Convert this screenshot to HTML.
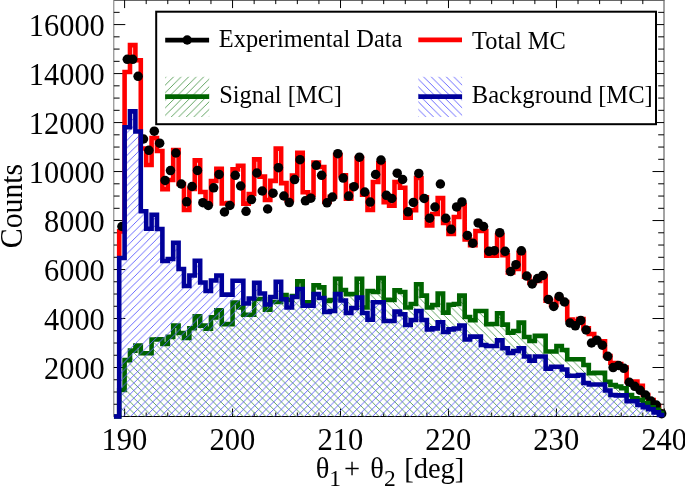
<!DOCTYPE html>
<html><head><meta charset="utf-8"><style>html,body{margin:0;padding:0;background:#fff;}svg{display:block;}</style></head>
<body><svg width="685" height="487" viewBox="0 0 685 487">
<defs>
<clipPath id="pc"><rect x="113.8" y="0" width="550.6" height="419.5"/></clipPath>
<pattern id="hg" patternUnits="userSpaceOnUse" x="0" y="7.16" width="7.56" height="7.56"><path d="M-1,-1 L8.56,8.56 M-1,6.56 L1,8.56 M6.56,-1 L8.56,1" stroke="#4f9a4f" stroke-width="0.9" fill="none"/></pattern>
<pattern id="hb" patternUnits="userSpaceOnUse" x="2.7" y="0" width="7.56" height="7.56"><path d="M-1,8.56 L8.56,-1 M-1,1 L1,-1 M6.56,8.56 L8.56,6.56" stroke="#5a5aff" stroke-width="0.9" fill="none"/></pattern>
<pattern id="lg" patternUnits="userSpaceOnUse" x="0.9" y="0" width="7.56" height="7.56"><path d="M-1,8.56 L8.56,-1 M-1,1 L1,-1 M6.56,8.56 L8.56,6.56" stroke="#4f9a4f" stroke-width="0.9" fill="none"/></pattern>
<pattern id="lb" patternUnits="userSpaceOnUse" x="0" y="1" width="7.56" height="7.56"><path d="M-1,-1 L8.56,8.56 M-1,6.56 L1,8.56 M6.56,-1 L8.56,1" stroke="#5a5aff" stroke-width="0.9" fill="none"/></pattern>
</defs>
<rect width="685" height="487" fill="#fff"/>
<path d="M113.8,0.1 H664.4 M113.8,416.5 H664.4" stroke="#000" stroke-width="1" fill="none"/>
<path d="M113.8,0.1 V416.5" stroke="#777" stroke-width="1" fill="none"/>
<path d="M664.0,0.1 V416.5" stroke="#666" stroke-width="1.2" fill="none"/>
<path d="M124.60,416.50 V408.50 M124.60,0.10 V8.10 M146.19,416.50 V412.50 M146.19,0.10 V4.10 M167.78,416.50 V412.50 M167.78,0.10 V4.10 M189.37,416.50 V412.50 M189.37,0.10 V4.10 M210.96,416.50 V412.50 M210.96,0.10 V4.10 M232.56,416.50 V408.50 M232.56,0.10 V8.10 M254.15,416.50 V412.50 M254.15,0.10 V4.10 M275.74,416.50 V412.50 M275.74,0.10 V4.10 M297.33,416.50 V412.50 M297.33,0.10 V4.10 M318.93,416.50 V412.50 M318.93,0.10 V4.10 M340.52,416.50 V408.50 M340.52,0.10 V8.10 M362.11,416.50 V412.50 M362.11,0.10 V4.10 M383.70,416.50 V412.50 M383.70,0.10 V4.10 M405.29,416.50 V412.50 M405.29,0.10 V4.10 M426.89,416.50 V412.50 M426.89,0.10 V4.10 M448.48,416.50 V408.50 M448.48,0.10 V8.10 M470.07,416.50 V412.50 M470.07,0.10 V4.10 M491.66,416.50 V412.50 M491.66,0.10 V4.10 M513.25,416.50 V412.50 M513.25,0.10 V4.10 M534.85,416.50 V412.50 M534.85,0.10 V4.10 M556.44,416.50 V408.50 M556.44,0.10 V8.10 M578.03,416.50 V412.50 M578.03,0.10 V4.10 M599.62,416.50 V412.50 M599.62,0.10 V4.10 M621.22,416.50 V412.50 M621.22,0.10 V4.10 M642.81,416.50 V412.50 M642.81,0.10 V4.10 M664.40,416.50 V408.50 M113.80,404.25 H119.60 M664.00,404.25 H658.20 M113.80,392.01 H119.60 M664.00,392.01 H658.20 M113.80,379.76 H119.60 M664.00,379.76 H658.20 M113.80,367.51 H125.30 M664.00,367.51 H652.50 M113.80,355.26 H119.60 M664.00,355.26 H658.20 M113.80,343.02 H119.60 M664.00,343.02 H658.20 M113.80,330.77 H119.60 M664.00,330.77 H658.20 M113.80,318.52 H125.30 M664.00,318.52 H652.50 M113.80,306.28 H119.60 M664.00,306.28 H658.20 M113.80,294.03 H119.60 M664.00,294.03 H658.20 M113.80,281.78 H119.60 M664.00,281.78 H658.20 M113.80,269.54 H125.30 M664.00,269.54 H652.50 M113.80,257.29 H119.60 M664.00,257.29 H658.20 M113.80,245.04 H119.60 M664.00,245.04 H658.20 M113.80,232.79 H119.60 M664.00,232.79 H658.20 M113.80,220.55 H125.30 M664.00,220.55 H652.50 M113.80,208.30 H119.60 M664.00,208.30 H658.20 M113.80,196.05 H119.60 M664.00,196.05 H658.20 M113.80,183.81 H119.60 M664.00,183.81 H658.20 M113.80,171.56 H125.30 M664.00,171.56 H652.50 M113.80,159.31 H119.60 M664.00,159.31 H658.20 M113.80,147.06 H119.60 M664.00,147.06 H658.20 M113.80,134.82 H119.60 M664.00,134.82 H658.20 M113.80,122.57 H125.30 M664.00,122.57 H652.50 M113.80,110.32 H119.60 M664.00,110.32 H658.20 M113.80,98.08 H119.60 M664.00,98.08 H658.20 M113.80,85.83 H119.60 M664.00,85.83 H658.20 M113.80,73.58 H125.30 M664.00,73.58 H652.50 M113.80,61.34 H119.60 M664.00,61.34 H658.20 M113.80,49.09 H119.60 M664.00,49.09 H658.20 M113.80,36.84 H119.60 M664.00,36.84 H658.20 M113.80,24.59 H125.30 M664.00,24.59 H652.50 M113.80,12.35 H119.60 M664.00,12.35 H658.20" stroke="#000" stroke-width="1" fill="none"/>
<g clip-path="url(#pc)">
<path d="M119.20,256.00 L119.20,231.40 L124.60,231.40 L124.60,72.00 L129.99,72.00 L129.99,45.10 L135.39,45.10 L135.39,60.30 L140.79,60.30 L140.79,148.50 L146.19,148.50 L146.19,165.00 L151.59,165.00 L151.59,138.00 L156.98,138.00 L156.98,151.00 L162.38,151.00 L162.38,189.30 L167.78,189.30 L167.78,180.00 L173.18,180.00 L173.18,150.00 L178.58,150.00 L178.58,184.00 L183.97,184.00 L183.97,210.00 L189.37,210.00 L189.37,189.00 L194.77,189.00 L194.77,160.40 L200.17,160.40 L200.17,192.00 L205.57,192.00 L205.57,203.50 L210.96,203.50 L210.96,181.00 L216.36,181.00 L216.36,168.70 L221.76,168.70 L221.76,203.50 L227.16,203.50 L227.16,203.00 L232.56,203.00 L232.56,169.40 L237.95,169.40 L237.95,165.80 L243.35,165.80 L243.35,203.60 L248.75,203.60 L248.75,194.00 L254.15,194.00 L254.15,159.40 L259.55,159.40 L259.55,176.60 L264.95,176.60 L264.95,200.00 L270.34,200.00 L270.34,180.90 L275.74,180.90 L275.74,148.60 L281.14,148.60 L281.14,183.10 L286.54,183.10 L286.54,200.00 L291.94,200.00 L291.94,175.50 L297.33,175.50 L297.33,152.90 L302.73,152.90 L302.73,192.20 L308.13,192.20 L308.13,195.00 L313.53,195.00 L313.53,162.60 L318.93,162.60 L318.93,167.00 L324.32,167.00 L324.32,201.80 L329.72,201.80 L329.72,196.80 L335.12,196.80 L335.12,155.10 L340.52,155.10 L340.52,175.20 L345.92,175.20 L345.92,198.70 L351.31,198.70 L351.31,186.00 L356.71,186.00 L356.71,158.00 L362.11,158.00 L362.11,194.60 L367.51,194.60 L367.51,210.00 L372.91,210.00 L372.91,182.00 L378.30,182.00 L378.30,163.30 L383.70,163.30 L383.70,202.10 L389.10,202.10 L389.10,205.70 L394.50,205.70 L394.50,182.00 L399.90,182.00 L399.90,187.70 L405.29,187.70 L405.29,217.80 L410.69,217.80 L410.69,210.30 L416.09,210.30 L416.09,178.00 L421.49,178.00 L421.49,197.40 L426.89,197.40 L426.89,225.50 L432.28,225.50 L432.28,214.00 L437.68,214.00 L437.68,198.10 L443.08,198.10 L443.08,223.00 L448.48,223.00 L448.48,234.00 L453.88,234.00 L453.88,217.00 L459.27,217.00 L459.27,205.00 L464.67,205.00 L464.67,239.50 L470.07,239.50 L470.07,245.20 L475.47,245.20 L475.47,231.00 L480.87,231.00 L480.87,231.00 L486.26,231.00 L486.26,255.60 L491.66,255.60 L491.66,255.60 L497.06,255.60 L497.06,235.20 L502.46,235.20 L502.46,255.30 L507.86,255.30 L507.86,272.50 L513.25,272.50 L513.25,269.00 L518.65,269.00 L518.65,253.10 L524.05,253.10 L524.05,276.80 L529.45,276.80 L529.45,282.60 L534.85,282.60 L534.85,281.00 L540.25,281.00 L540.25,276.30 L545.64,276.30 L545.64,300.80 L551.04,300.80 L551.04,305.00 L556.44,305.00 L556.44,299.00 L561.84,299.00 L561.84,302.00 L567.24,302.00 L567.24,319.50 L572.63,319.50 L572.63,321.00 L578.03,321.00 L578.03,319.00 L583.43,319.00 L583.43,328.20 L588.83,328.20 L588.83,334.00 L594.23,334.00 L594.23,341.30 L599.62,341.30 L599.62,341.30 L605.02,341.30 L605.02,356.00 L610.42,356.00 L610.42,363.00 L615.82,363.00 L615.82,364.00 L621.22,364.00 L621.22,367.50 L626.61,367.50 L626.61,381.50 L632.01,381.50 L632.01,381.50 L637.41,381.50 L637.41,385.70 L642.81,385.70 L642.81,395.00 L648.21,395.00 L648.21,400.00 L653.60,400.00 L653.60,406.00 L659.00,406.00 L659.00,412.00 L664.40,412.00 L664.40,416.50" fill="none" stroke="#ff0000" stroke-width="4.6"/>
</g>
<g fill="#000"><circle cx="121.90" cy="226.50" r="4.75"/><circle cx="127.30" cy="59.30" r="4.75"/><circle cx="132.69" cy="59.30" r="4.75"/><circle cx="138.09" cy="76.30" r="4.75"/><circle cx="143.49" cy="139.00" r="4.75"/><circle cx="148.89" cy="150.30" r="4.75"/><circle cx="154.29" cy="131.20" r="4.75"/><circle cx="159.68" cy="143.20" r="4.75"/><circle cx="165.08" cy="180.40" r="4.75"/><circle cx="170.48" cy="170.60" r="4.75"/><circle cx="175.88" cy="153.00" r="4.75"/><circle cx="181.28" cy="184.00" r="4.75"/><circle cx="186.67" cy="201.80" r="4.75"/><circle cx="192.07" cy="186.50" r="4.75"/><circle cx="197.47" cy="170.40" r="4.75"/><circle cx="202.87" cy="202.70" r="4.75"/><circle cx="208.27" cy="205.40" r="4.75"/><circle cx="213.66" cy="187.80" r="4.75"/><circle cx="219.06" cy="174.40" r="4.75"/><circle cx="224.46" cy="212.00" r="4.75"/><circle cx="229.86" cy="205.50" r="4.75"/><circle cx="235.26" cy="175.30" r="4.75"/><circle cx="240.65" cy="186.00" r="4.75"/><circle cx="246.05" cy="211.30" r="4.75"/><circle cx="251.45" cy="199.60" r="4.75"/><circle cx="256.85" cy="173.00" r="4.75"/><circle cx="262.25" cy="191.00" r="4.75"/><circle cx="267.64" cy="209.00" r="4.75"/><circle cx="273.04" cy="193.20" r="4.75"/><circle cx="278.44" cy="167.70" r="4.75"/><circle cx="283.84" cy="196.00" r="4.75"/><circle cx="289.24" cy="202.60" r="4.75"/><circle cx="294.63" cy="179.60" r="4.75"/><circle cx="300.03" cy="159.70" r="4.75"/><circle cx="305.43" cy="200.80" r="4.75"/><circle cx="310.83" cy="198.20" r="4.75"/><circle cx="316.23" cy="165.30" r="4.75"/><circle cx="321.62" cy="175.30" r="4.75"/><circle cx="327.02" cy="202.80" r="4.75"/><circle cx="332.42" cy="197.10" r="4.75"/><circle cx="337.82" cy="153.70" r="4.75"/><circle cx="343.22" cy="178.10" r="4.75"/><circle cx="348.61" cy="196.10" r="4.75"/><circle cx="354.01" cy="186.70" r="4.75"/><circle cx="359.41" cy="157.20" r="4.75"/><circle cx="364.81" cy="192.00" r="4.75"/><circle cx="370.21" cy="202.10" r="4.75"/><circle cx="375.60" cy="174.50" r="4.75"/><circle cx="381.00" cy="160.10" r="4.75"/><circle cx="386.40" cy="195.30" r="4.75"/><circle cx="391.80" cy="198.50" r="4.75"/><circle cx="397.20" cy="173.20" r="4.75"/><circle cx="402.60" cy="179.40" r="4.75"/><circle cx="407.99" cy="211.80" r="4.75"/><circle cx="413.39" cy="202.40" r="4.75"/><circle cx="418.79" cy="173.40" r="4.75"/><circle cx="424.19" cy="198.40" r="4.75"/><circle cx="429.59" cy="218.20" r="4.75"/><circle cx="434.98" cy="207.00" r="4.75"/><circle cx="440.38" cy="184.00" r="4.75"/><circle cx="445.78" cy="218.30" r="4.75"/><circle cx="451.18" cy="229.30" r="4.75"/><circle cx="456.58" cy="206.90" r="4.75"/><circle cx="461.97" cy="201.90" r="4.75"/><circle cx="467.37" cy="235.40" r="4.75"/><circle cx="472.77" cy="243.20" r="4.75"/><circle cx="478.17" cy="222.90" r="4.75"/><circle cx="483.57" cy="226.50" r="4.75"/><circle cx="488.96" cy="251.30" r="4.75"/><circle cx="494.36" cy="250.70" r="4.75"/><circle cx="499.76" cy="232.70" r="4.75"/><circle cx="505.16" cy="251.30" r="4.75"/><circle cx="510.56" cy="271.60" r="4.75"/><circle cx="515.95" cy="264.70" r="4.75"/><circle cx="521.35" cy="250.80" r="4.75"/><circle cx="526.75" cy="276.10" r="4.75"/><circle cx="532.15" cy="284.00" r="4.75"/><circle cx="537.55" cy="278.50" r="4.75"/><circle cx="542.94" cy="275.40" r="4.75"/><circle cx="548.34" cy="299.40" r="4.75"/><circle cx="553.74" cy="306.50" r="4.75"/><circle cx="559.14" cy="296.40" r="4.75"/><circle cx="564.54" cy="302.00" r="4.75"/><circle cx="569.93" cy="323.00" r="4.75"/><circle cx="575.33" cy="325.80" r="4.75"/><circle cx="580.73" cy="320.40" r="4.75"/><circle cx="586.13" cy="330.00" r="4.75"/><circle cx="591.53" cy="343.00" r="4.75"/><circle cx="596.92" cy="340.20" r="4.75"/><circle cx="602.32" cy="345.20" r="4.75"/><circle cx="607.72" cy="356.30" r="4.75"/><circle cx="613.12" cy="367.60" r="4.75"/><circle cx="618.52" cy="365.50" r="4.75"/><circle cx="623.91" cy="368.30" r="4.75"/><circle cx="629.31" cy="382.30" r="4.75"/><circle cx="634.71" cy="386.30" r="4.75"/><circle cx="640.11" cy="390.30" r="4.75"/><circle cx="645.51" cy="395.00" r="4.75"/><circle cx="650.90" cy="401.00" r="4.75"/><circle cx="656.30" cy="405.00" r="4.75"/><circle cx="661.70" cy="413.70" r="4.75"/></g>
<g clip-path="url(#pc)">
<path d="M113.80,416.50 L119.20,416.50 L119.20,390.00 L124.60,390.00 L124.60,360.10 L129.99,360.10 L129.99,350.60 L135.39,350.60 L135.39,345.60 L140.79,345.60 L140.79,353.30 L146.19,353.30 L146.19,353.30 L151.59,353.30 L151.59,339.50 L156.98,339.50 L156.98,339.30 L162.38,339.30 L162.38,344.00 L167.78,344.00 L167.78,336.90 L173.18,336.90 L173.18,325.60 L178.58,325.60 L178.58,333.00 L183.97,333.00 L183.97,338.00 L189.37,338.00 L189.37,328.20 L194.77,328.20 L194.77,316.30 L200.17,316.30 L200.17,325.60 L205.57,325.60 L205.57,328.70 L210.96,328.70 L210.96,317.40 L216.36,317.40 L216.36,310.20 L221.76,310.20 L221.76,324.10 L227.16,324.10 L227.16,324.10 L232.56,324.10 L232.56,302.50 L237.95,302.50 L237.95,307.40 L243.35,307.40 L243.35,314.80 L248.75,314.80 L248.75,314.80 L254.15,314.80 L254.15,299.00 L259.55,299.00 L259.55,299.00 L264.95,299.00 L264.95,309.80 L270.34,309.80 L270.34,302.00 L275.74,302.00 L275.74,302.00 L281.14,302.00 L281.14,295.00 L286.54,295.00 L286.54,300.00 L291.94,300.00 L291.94,296.00 L297.33,296.00 L297.33,281.20 L302.73,281.20 L302.73,302.40 L308.13,302.40 L308.13,302.40 L313.53,302.40 L313.53,285.30 L318.93,285.30 L318.93,287.40 L324.32,287.40 L324.32,301.00 L329.72,301.00 L329.72,300.00 L335.12,300.00 L335.12,278.70 L340.52,278.70 L340.52,290.00 L345.92,290.00 L345.92,294.10 L351.31,294.10 L351.31,294.00 L356.71,294.00 L356.71,278.70 L362.11,278.70 L362.11,307.50 L367.51,307.50 L367.51,291.00 L372.91,291.00 L372.91,292.00 L378.30,292.00 L378.30,278.10 L383.70,278.10 L383.70,299.70 L389.10,299.70 L389.10,300.00 L394.50,300.00 L394.50,290.40 L399.90,290.40 L399.90,292.00 L405.29,292.00 L405.29,307.50 L410.69,307.50 L410.69,304.00 L416.09,304.00 L416.09,284.30 L421.49,284.30 L421.49,295.60 L426.89,295.60 L426.89,307.50 L432.28,307.50 L432.28,305.00 L437.68,305.00 L437.68,293.50 L443.08,293.50 L443.08,312.60 L448.48,312.60 L448.48,304.80 L453.88,304.80 L453.88,304.00 L459.27,304.00 L459.27,295.60 L464.67,295.60 L464.67,317.00 L470.07,317.00 L470.07,320.20 L475.47,320.20 L475.47,311.00 L480.87,311.00 L480.87,311.00 L486.26,311.00 L486.26,324.30 L491.66,324.30 L491.66,324.00 L497.06,324.00 L497.06,313.30 L502.46,313.30 L502.46,324.60 L507.86,324.60 L507.86,332.80 L513.25,332.80 L513.25,331.00 L518.65,331.00 L518.65,322.60 L524.05,322.60 L524.05,337.00 L529.45,337.00 L529.45,341.00 L534.85,341.00 L534.85,335.90 L540.25,335.90 L540.25,335.90 L545.64,335.90 L545.64,351.50 L551.04,351.50 L551.04,351.50 L556.44,351.50 L556.44,346.00 L561.84,346.00 L561.84,350.00 L567.24,350.00 L567.24,359.30 L572.63,359.30 L572.63,359.30 L578.03,359.30 L578.03,359.30 L583.43,359.30 L583.43,365.00 L588.83,365.00 L588.83,373.30 L594.23,373.30 L594.23,372.90 L599.62,372.90 L599.62,372.90 L605.02,372.90 L605.02,381.80 L610.42,381.80 L610.42,385.00 L615.82,385.00 L615.82,386.50 L621.22,386.50 L621.22,388.30 L626.61,388.30 L626.61,395.00 L632.01,395.00 L632.01,398.20 L637.41,398.20 L637.41,399.80 L642.81,399.80 L642.81,403.10 L648.21,403.10 L648.21,407.40 L653.60,407.40 L653.60,409.90 L659.00,409.90 L659.00,413.00 L664.40,413.00 L664.40,416.50 Z" fill="url(#hg)"/>
<path d="M113.80,416.50 L119.20,416.50 L119.20,390.00 L124.60,390.00 L124.60,360.10 L129.99,360.10 L129.99,350.60 L135.39,350.60 L135.39,345.60 L140.79,345.60 L140.79,353.30 L146.19,353.30 L146.19,353.30 L151.59,353.30 L151.59,339.50 L156.98,339.50 L156.98,339.30 L162.38,339.30 L162.38,344.00 L167.78,344.00 L167.78,336.90 L173.18,336.90 L173.18,325.60 L178.58,325.60 L178.58,333.00 L183.97,333.00 L183.97,338.00 L189.37,338.00 L189.37,328.20 L194.77,328.20 L194.77,316.30 L200.17,316.30 L200.17,325.60 L205.57,325.60 L205.57,328.70 L210.96,328.70 L210.96,317.40 L216.36,317.40 L216.36,310.20 L221.76,310.20 L221.76,324.10 L227.16,324.10 L227.16,324.10 L232.56,324.10 L232.56,302.50 L237.95,302.50 L237.95,307.40 L243.35,307.40 L243.35,314.80 L248.75,314.80 L248.75,314.80 L254.15,314.80 L254.15,299.00 L259.55,299.00 L259.55,299.00 L264.95,299.00 L264.95,309.80 L270.34,309.80 L270.34,302.00 L275.74,302.00 L275.74,302.00 L281.14,302.00 L281.14,295.00 L286.54,295.00 L286.54,300.00 L291.94,300.00 L291.94,296.00 L297.33,296.00 L297.33,281.20 L302.73,281.20 L302.73,302.40 L308.13,302.40 L308.13,302.40 L313.53,302.40 L313.53,285.30 L318.93,285.30 L318.93,287.40 L324.32,287.40 L324.32,301.00 L329.72,301.00 L329.72,300.00 L335.12,300.00 L335.12,278.70 L340.52,278.70 L340.52,290.00 L345.92,290.00 L345.92,294.10 L351.31,294.10 L351.31,294.00 L356.71,294.00 L356.71,278.70 L362.11,278.70 L362.11,307.50 L367.51,307.50 L367.51,291.00 L372.91,291.00 L372.91,292.00 L378.30,292.00 L378.30,278.10 L383.70,278.10 L383.70,299.70 L389.10,299.70 L389.10,300.00 L394.50,300.00 L394.50,290.40 L399.90,290.40 L399.90,292.00 L405.29,292.00 L405.29,307.50 L410.69,307.50 L410.69,304.00 L416.09,304.00 L416.09,284.30 L421.49,284.30 L421.49,295.60 L426.89,295.60 L426.89,307.50 L432.28,307.50 L432.28,305.00 L437.68,305.00 L437.68,293.50 L443.08,293.50 L443.08,312.60 L448.48,312.60 L448.48,304.80 L453.88,304.80 L453.88,304.00 L459.27,304.00 L459.27,295.60 L464.67,295.60 L464.67,317.00 L470.07,317.00 L470.07,320.20 L475.47,320.20 L475.47,311.00 L480.87,311.00 L480.87,311.00 L486.26,311.00 L486.26,324.30 L491.66,324.30 L491.66,324.00 L497.06,324.00 L497.06,313.30 L502.46,313.30 L502.46,324.60 L507.86,324.60 L507.86,332.80 L513.25,332.80 L513.25,331.00 L518.65,331.00 L518.65,322.60 L524.05,322.60 L524.05,337.00 L529.45,337.00 L529.45,341.00 L534.85,341.00 L534.85,335.90 L540.25,335.90 L540.25,335.90 L545.64,335.90 L545.64,351.50 L551.04,351.50 L551.04,351.50 L556.44,351.50 L556.44,346.00 L561.84,346.00 L561.84,350.00 L567.24,350.00 L567.24,359.30 L572.63,359.30 L572.63,359.30 L578.03,359.30 L578.03,359.30 L583.43,359.30 L583.43,365.00 L588.83,365.00 L588.83,373.30 L594.23,373.30 L594.23,372.90 L599.62,372.90 L599.62,372.90 L605.02,372.90 L605.02,381.80 L610.42,381.80 L610.42,385.00 L615.82,385.00 L615.82,386.50 L621.22,386.50 L621.22,388.30 L626.61,388.30 L626.61,395.00 L632.01,395.00 L632.01,398.20 L637.41,398.20 L637.41,399.80 L642.81,399.80 L642.81,403.10 L648.21,403.10 L648.21,407.40 L653.60,407.40 L653.60,409.90 L659.00,409.90 L659.00,413.00 L664.40,413.00 L664.40,416.50" fill="none" stroke="#006400" stroke-width="4.6"/>
<path d="M113.80,416.50 L119.20,416.50 L119.20,258.00 L124.60,258.00 L124.60,127.20 L129.99,127.20 L129.99,111.40 L135.39,111.40 L135.39,131.50 L140.79,131.50 L140.79,211.20 L146.19,211.20 L146.19,228.70 L151.59,228.70 L151.59,214.70 L156.98,214.70 L156.98,229.00 L162.38,229.00 L162.38,261.00 L167.78,261.00 L167.78,259.00 L173.18,259.00 L173.18,242.80 L178.58,242.80 L178.58,269.00 L183.97,269.00 L183.97,286.00 L189.37,286.00 L189.37,275.50 L194.77,275.50 L194.77,260.80 L200.17,260.80 L200.17,282.50 L205.57,282.50 L205.57,291.00 L210.96,291.00 L210.96,280.50 L216.36,280.50 L216.36,275.50 L221.76,275.50 L221.76,294.60 L227.16,294.60 L227.16,294.60 L232.56,294.60 L232.56,280.80 L237.95,280.80 L237.95,280.80 L243.35,280.80 L243.35,303.50 L248.75,303.50 L248.75,298.50 L254.15,298.50 L254.15,282.70 L259.55,282.70 L259.55,293.50 L264.95,293.50 L264.95,304.50 L270.34,304.50 L270.34,297.00 L275.74,297.00 L275.74,281.70 L281.14,281.70 L281.14,299.30 L286.54,299.30 L286.54,307.50 L291.94,307.50 L291.94,297.00 L297.33,297.00 L297.33,289.00 L302.73,289.00 L302.73,305.60 L308.13,305.60 L308.13,305.60 L313.53,305.60 L313.53,294.10 L318.93,294.10 L318.93,298.00 L324.32,298.00 L324.32,312.00 L329.72,312.00 L329.72,311.00 L335.12,311.00 L335.12,294.10 L340.52,294.10 L340.52,300.50 L345.92,300.50 L345.92,313.00 L351.31,313.00 L351.31,308.00 L356.71,308.00 L356.71,297.60 L362.11,297.60 L362.11,313.00 L367.51,313.00 L367.51,319.80 L372.91,319.80 L372.91,302.30 L378.30,302.30 L378.30,302.30 L383.70,302.30 L383.70,321.00 L389.10,321.00 L389.10,321.00 L394.50,321.00 L394.50,311.60 L399.90,311.60 L399.90,314.30 L405.29,314.30 L405.29,325.00 L410.69,325.00 L410.69,320.00 L416.09,320.00 L416.09,311.00 L421.49,311.00 L421.49,320.00 L426.89,320.00 L426.89,329.50 L432.28,329.50 L432.28,328.40 L437.68,328.40 L437.68,322.30 L443.08,322.30 L443.08,332.00 L448.48,332.00 L448.48,329.40 L453.88,329.40 L453.88,328.50 L459.27,328.50 L459.27,325.50 L464.67,325.50 L464.67,339.50 L470.07,339.50 L470.07,336.60 L475.47,336.60 L475.47,336.60 L480.87,336.60 L480.87,345.00 L486.26,345.00 L486.26,346.00 L491.66,346.00 L491.66,346.00 L497.06,346.00 L497.06,340.30 L502.46,340.30 L502.46,348.20 L507.86,348.20 L507.86,353.00 L513.25,353.00 L513.25,351.00 L518.65,351.00 L518.65,348.20 L524.05,348.20 L524.05,356.50 L529.45,356.50 L529.45,360.60 L534.85,360.60 L534.85,356.50 L540.25,356.50 L540.25,356.50 L545.64,356.50 L545.64,368.80 L551.04,368.80 L551.04,366.70 L556.44,366.70 L556.44,366.70 L561.84,366.70 L561.84,369.50 L567.24,369.50 L567.24,375.70 L572.63,375.70 L572.63,375.70 L578.03,375.70 L578.03,375.00 L583.43,375.00 L583.43,383.00 L588.83,383.00 L588.83,384.50 L594.23,384.50 L594.23,384.50 L599.62,384.50 L599.62,384.50 L605.02,384.50 L605.02,390.50 L610.42,390.50 L610.42,395.00 L615.82,395.00 L615.82,395.40 L621.22,395.40 L621.22,395.40 L626.61,395.40 L626.61,401.30 L632.01,401.30 L632.01,401.30 L637.41,401.30 L637.41,405.00 L642.81,405.00 L642.81,407.10 L648.21,407.10 L648.21,409.30 L653.60,409.30 L653.60,412.40 L659.00,412.40 L659.00,415.00 L664.40,415.00 L664.40,416.50 Z" fill="url(#hb)"/>
<path d="M113.80,416.50 L119.20,416.50 L119.20,258.00 L124.60,258.00 L124.60,127.20 L129.99,127.20 L129.99,111.40 L135.39,111.40 L135.39,131.50 L140.79,131.50 L140.79,211.20 L146.19,211.20 L146.19,228.70 L151.59,228.70 L151.59,214.70 L156.98,214.70 L156.98,229.00 L162.38,229.00 L162.38,261.00 L167.78,261.00 L167.78,259.00 L173.18,259.00 L173.18,242.80 L178.58,242.80 L178.58,269.00 L183.97,269.00 L183.97,286.00 L189.37,286.00 L189.37,275.50 L194.77,275.50 L194.77,260.80 L200.17,260.80 L200.17,282.50 L205.57,282.50 L205.57,291.00 L210.96,291.00 L210.96,280.50 L216.36,280.50 L216.36,275.50 L221.76,275.50 L221.76,294.60 L227.16,294.60 L227.16,294.60 L232.56,294.60 L232.56,280.80 L237.95,280.80 L237.95,280.80 L243.35,280.80 L243.35,303.50 L248.75,303.50 L248.75,298.50 L254.15,298.50 L254.15,282.70 L259.55,282.70 L259.55,293.50 L264.95,293.50 L264.95,304.50 L270.34,304.50 L270.34,297.00 L275.74,297.00 L275.74,281.70 L281.14,281.70 L281.14,299.30 L286.54,299.30 L286.54,307.50 L291.94,307.50 L291.94,297.00 L297.33,297.00 L297.33,289.00 L302.73,289.00 L302.73,305.60 L308.13,305.60 L308.13,305.60 L313.53,305.60 L313.53,294.10 L318.93,294.10 L318.93,298.00 L324.32,298.00 L324.32,312.00 L329.72,312.00 L329.72,311.00 L335.12,311.00 L335.12,294.10 L340.52,294.10 L340.52,300.50 L345.92,300.50 L345.92,313.00 L351.31,313.00 L351.31,308.00 L356.71,308.00 L356.71,297.60 L362.11,297.60 L362.11,313.00 L367.51,313.00 L367.51,319.80 L372.91,319.80 L372.91,302.30 L378.30,302.30 L378.30,302.30 L383.70,302.30 L383.70,321.00 L389.10,321.00 L389.10,321.00 L394.50,321.00 L394.50,311.60 L399.90,311.60 L399.90,314.30 L405.29,314.30 L405.29,325.00 L410.69,325.00 L410.69,320.00 L416.09,320.00 L416.09,311.00 L421.49,311.00 L421.49,320.00 L426.89,320.00 L426.89,329.50 L432.28,329.50 L432.28,328.40 L437.68,328.40 L437.68,322.30 L443.08,322.30 L443.08,332.00 L448.48,332.00 L448.48,329.40 L453.88,329.40 L453.88,328.50 L459.27,328.50 L459.27,325.50 L464.67,325.50 L464.67,339.50 L470.07,339.50 L470.07,336.60 L475.47,336.60 L475.47,336.60 L480.87,336.60 L480.87,345.00 L486.26,345.00 L486.26,346.00 L491.66,346.00 L491.66,346.00 L497.06,346.00 L497.06,340.30 L502.46,340.30 L502.46,348.20 L507.86,348.20 L507.86,353.00 L513.25,353.00 L513.25,351.00 L518.65,351.00 L518.65,348.20 L524.05,348.20 L524.05,356.50 L529.45,356.50 L529.45,360.60 L534.85,360.60 L534.85,356.50 L540.25,356.50 L540.25,356.50 L545.64,356.50 L545.64,368.80 L551.04,368.80 L551.04,366.70 L556.44,366.70 L556.44,366.70 L561.84,366.70 L561.84,369.50 L567.24,369.50 L567.24,375.70 L572.63,375.70 L572.63,375.70 L578.03,375.70 L578.03,375.00 L583.43,375.00 L583.43,383.00 L588.83,383.00 L588.83,384.50 L594.23,384.50 L594.23,384.50 L599.62,384.50 L599.62,384.50 L605.02,384.50 L605.02,390.50 L610.42,390.50 L610.42,395.00 L615.82,395.00 L615.82,395.40 L621.22,395.40 L621.22,395.40 L626.61,395.40 L626.61,401.30 L632.01,401.30 L632.01,401.30 L637.41,401.30 L637.41,405.00 L642.81,405.00 L642.81,407.10 L648.21,407.10 L648.21,409.30 L653.60,409.30 L653.60,412.40 L659.00,412.40 L659.00,415.00 L664.40,415.00 L664.40,416.50" fill="none" stroke="#00009a" stroke-width="4.6"/>
</g>
<rect x="156.2" y="11.7" width="499.8" height="112.5" fill="#fff" stroke="#000" stroke-width="2"/>
<path d="M165.2,40.1 H209.1" stroke="#000" stroke-width="4.7"/>
<circle cx="187.2" cy="40" r="4.7" fill="#000"/>
<path d="M418.3,39.8 H462" stroke="#ff0000" stroke-width="4.7"/>
<rect x="165.1" y="76.8" width="44.1" height="40.2" fill="url(#lg)"/>
<path d="M165.1,96.7 H209.2" stroke="#006400" stroke-width="4.7"/>
<rect x="418.3" y="76.8" width="43.8" height="40.2" fill="url(#lb)"/>
<path d="M418.3,96.7 H462.1" stroke="#00009a" stroke-width="4.7"/>
<g font-family="'Liberation Serif', serif" fill="#000" opacity="0.999">
<text transform="translate(104.80,378.51) scale(1,1.07)" font-size="30.4" text-anchor="end">2000</text><text transform="translate(104.80,329.52) scale(1,1.07)" font-size="30.4" text-anchor="end">4000</text><text transform="translate(104.80,280.54) scale(1,1.07)" font-size="30.4" text-anchor="end">6000</text><text transform="translate(104.80,231.55) scale(1,1.07)" font-size="30.4" text-anchor="end">8000</text><text transform="translate(104.80,182.56) scale(1,1.07)" font-size="30.4" text-anchor="end">10000</text><text transform="translate(104.80,133.57) scale(1,1.07)" font-size="30.4" text-anchor="end">12000</text><text transform="translate(104.80,84.58) scale(1,1.07)" font-size="30.4" text-anchor="end">14000</text><text transform="translate(104.80,35.59) scale(1,1.07)" font-size="30.4" text-anchor="end">16000</text><text transform="translate(124.40,450.30) scale(1,1.05)" font-size="30.6" text-anchor="middle">190</text><text transform="translate(232.36,450.30) scale(1,1.05)" font-size="30.6" text-anchor="middle">200</text><text transform="translate(340.32,450.30) scale(1,1.05)" font-size="30.6" text-anchor="middle">210</text><text transform="translate(448.28,450.30) scale(1,1.05)" font-size="30.6" text-anchor="middle">220</text><text transform="translate(556.24,450.30) scale(1,1.05)" font-size="30.6" text-anchor="middle">230</text><text transform="translate(664.20,450.30) scale(1,1.05)" font-size="30.6" text-anchor="middle">240</text><text transform="translate(21.80,206.00) rotate(-90) scale(1,1.07)" font-size="29.8" text-anchor="middle">Counts</text><text transform="translate(315.70,478.40) scale(1,1)" font-size="28.5">&#952;</text><text transform="translate(329.30,486.00) scale(1,1)" font-size="23.5">1</text><text transform="translate(343.90,478.40) scale(1,1)" font-size="28.5">+</text><text transform="translate(370.30,478.40) scale(1,1)" font-size="28.5">&#952;</text><text transform="translate(384.00,486.00) scale(1,1)" font-size="23.5">2</text><text transform="translate(404.20,478.40) scale(1,1)" font-size="28.5">[deg]</text><text transform="translate(218.80,46.60) scale(1,1)" font-size="24.4">Experimental Data</text><text transform="translate(472.00,48.90) scale(1,1)" font-size="24.4">Total MC</text><text transform="translate(219.20,102.80) scale(1,1)" font-size="24.4">Signal [MC]</text><text transform="translate(471.80,103.40) scale(1,1)" font-size="24.6">Background [MC]</text>
</g>
</svg></body></html>
